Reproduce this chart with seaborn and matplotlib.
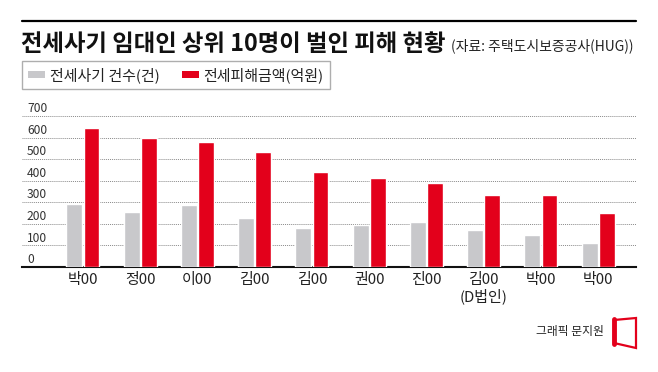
import matplotlib
matplotlib.use("Agg")
import matplotlib.pyplot as plt
import seaborn as sns
import pandas as pd
from matplotlib.patches import Patch, Polygon
from matplotlib.lines import Line2D

# 데이터
names = ["박00", "정00", "이00", "김00", "김00", "권00", "진00", "김00\n(D법인)", "박00", "박00"]
cases = [292, 255, 287, 228, 183, 195, 209, 172, 147, 113]
damage = [644, 600, 581, 533, 440, 415, 388, 334, 332, 250]
series = ["전세사기 건수(건)", "전세피해금액(억원)"]
yticks = [0, 100, 200, 300, 400, 500, 600, 700]

GREY = "#c8c8cb"
RED = "#e3001b"

sns.set_theme(style="white")
plt.rcParams["font.family"] = ["Noto Sans CJK KR", "DejaVu Sans"]

df = pd.DataFrame({
    "rank": list(range(len(names))) * 2,
    "series": [series[0]] * len(names) + [series[1]] * len(names),
    "value": cases + damage,
})

W, H = 658, 372
fig = plt.figure(figsize=(W / 100, H / 100), dpi=100)

def fx(px):
    return px / W

def fy(py):
    return 1 - py / H

# 축 위치 (픽셀 기준)
ax_left, ax_right, ax_top, ax_bottom = 22, 636, 115, 267
ax = fig.add_axes([fx(ax_left), fy(ax_bottom), fx(ax_right - ax_left), (ax_bottom - ax_top) / H])

sns.barplot(data=df, x="rank", y="value", hue="series", palette=[GREY, RED],
            width=0.6, gap=0.08, saturation=1, legend=False, ax=ax, zorder=3)

ax.set_xlim(-1.065, 9.66)
ax.set_ylim(0, 705)
ax.set_yticks(yticks)
ax.set_yticklabels([])
ax.yaxis.grid(True, linestyle=(0, (1, 1)), color="#8a8a8a", linewidth=0.7, zorder=0)
ax.set_axisbelow(True)
for s in ["left", "right", "top"]:
    ax.spines[s].set_visible(False)
ax.spines["bottom"].set_color("#111111")
ax.spines["bottom"].set_linewidth(1.5)
ax.tick_params(axis="both", length=0)
ax.set_xlabel("")
ax.set_ylabel("")
ax.set_xticks(range(len(names)))
ax.set_xticklabels(names, fontsize=10.8, color="#222222", linespacing=1.05)
ax.tick_params(axis="x", pad=4.5)

# y축 눈금 글자 (격자선 위, 축 안쪽)
for v in yticks:
    ax.text(0.008, v + 4, str(v), transform=ax.get_yaxis_transform(),
            ha="left", va="bottom", fontsize=8.7, color="#333333")

# 상단 선과 제목
fig.add_artist(Line2D([fx(22), fx(636)], [fy(21), fy(21)], color="black", linewidth=1.6))
fig.text(fx(21), fy(44), "전세사기 임대인 상위 10명이 벌인 피해 현황",
         fontsize=16.8, fontweight="bold", color="#111111", va="center", ha="left")
fig.text(fx(451), fy(45.5), "(자료: 주택도시보증공사(HUG))",
         fontsize=10, color="#222222", va="center", ha="left")

# 범례
handles = [Patch(facecolor=GREY, edgecolor="none"), Patch(facecolor=RED, edgecolor="none")]
leg = fig.legend(handles, series, loc="upper left", bbox_to_anchor=(fx(22), fy(61)),
                 ncol=2, frameon=True, fancybox=False, edgecolor="#9a9a9a",
                 borderpad=0.4, handlelength=1.1, handleheight=0.4,
                 handletextpad=0.35, columnspacing=1.5, fontsize=10.8,
                 borderaxespad=0)
leg.get_frame().set_linewidth(1.0)
for t in leg.get_texts():
    t.set_color("#222222")

# 하단 출처
fig.text(fx(604), fy(332), "그래픽 문지원", fontsize=8.5, color="#222222", ha="right", va="center")
logo = Polygon([[fx(614), fy(320)], [fx(636), fy(318)], [fx(636), fy(348)], [fx(614), fy(343)]],
               closed=True, facecolor="white", edgecolor=RED, linewidth=1.6,
               transform=fig.transFigure)
fig.add_artist(logo)
fig.add_artist(Line2D([fx(614), fx(614)], [fy(319), fy(344)], color=RED, linewidth=3.5))

fig.savefig("out.png", dpi=100)
